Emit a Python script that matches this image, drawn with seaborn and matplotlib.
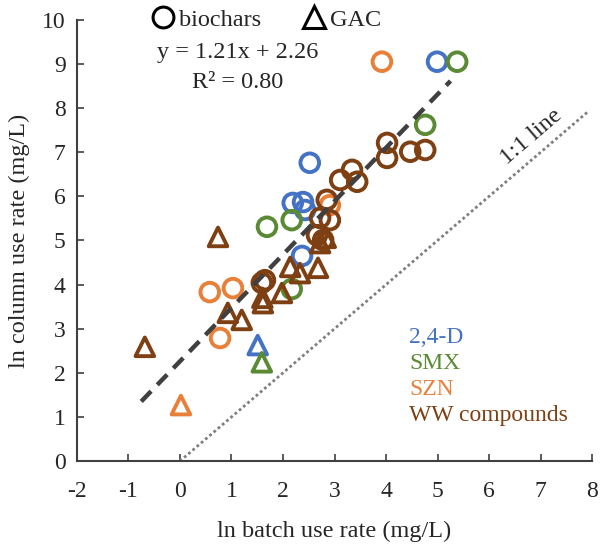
import matplotlib
matplotlib.use("Agg")
import matplotlib.pyplot as plt
from matplotlib.lines import Line2D
import seaborn as sns
import pandas as pd

# data (ln batch use rate vs ln column use rate)
d24_bio_x = [4.99, 2.52, 2.19, 2.39, 2.43, 2.37]
d24_bio_y = [9.05, 6.76, 5.85, 5.87, 5.69, 4.65]
d24_gac_x = [1.51]
d24_gac_y = [2.63]

smx_bio_x = [5.38, 4.76, 1.69, 2.17, 2.17]
smx_bio_y = [9.05, 7.62, 5.31, 5.46, 3.90]
smx_gac_x = [1.59]
smx_gac_y = [2.24]

szn_bio_x = [3.92, 2.91, 0.58, 1.03, 0.78]
szn_bio_y = [9.05, 5.80, 3.83, 3.92, 2.79]
szn_gac_x = [0.02]
szn_gac_y = [1.27]

ww_bio_x = [4.02, 4.02, 4.47, 4.76, 3.34, 3.11, 3.44, 2.85, 2.72, 2.91, 2.66, 2.78, 1.59, 1.65]
ww_bio_y = [7.21, 6.87, 7.01, 7.05, 6.60, 6.37, 6.33, 5.92, 5.51, 5.46, 5.12, 5.01, 4.04, 4.10]
ww_gac_x = [0.74, -0.68, 2.72, 2.83, 2.68, 2.14, 2.33, 1.98, 1.61, 1.20, 0.93, 1.60]
ww_gac_y = [5.08, 2.59, 4.94, 5.06, 4.38, 4.40, 4.26, 3.81, 3.58, 3.20, 3.36, 3.70]

slope, intercept = 1.21, 2.26
fit_x = [-0.75, 5.25]
one_x = [0, 7.9]

compounds = ["2,4-D", "SMX", "SZN", "WW compounds"]
colors = {"2,4-D": "#4472C4", "SMX": "#5B8A35", "SZN": "#E8803A", "WW compounds": "#7E3F12"}

rows = []
series = [
    ("2,4-D", "biochars", d24_bio_x, d24_bio_y), ("2,4-D", "GAC", d24_gac_x, d24_gac_y),
    ("SMX", "biochars", smx_bio_x, smx_bio_y), ("SMX", "GAC", smx_gac_x, smx_gac_y),
    ("SZN", "biochars", szn_bio_x, szn_bio_y), ("SZN", "GAC", szn_gac_x, szn_gac_y),
    ("WW compounds", "biochars", ww_bio_x, ww_bio_y), ("WW compounds", "GAC", ww_gac_x, ww_gac_y),
]
for comp, sorb, xs, ys in series:
    for x, y in zip(xs, ys):
        rows.append({"batch": x, "column": y, "compound": comp, "sorbent": sorb})
df = pd.DataFrame(rows)

sns.set_style("ticks")
plt.rcParams["font.family"] = ["Liberation Serif", "DejaVu Serif"]
plt.rcParams["axes.unicode_minus"] = False

fig = plt.figure(figsize=(6, 5.49), dpi=100)
ax = fig.add_axes([0.128, 0.160, 0.859, 0.804])

sns.scatterplot(data=df, x="batch", y="column", hue="compound", style="sorbent",
                palette=colors, markers={"biochars": "o", "GAC": "^"},
                s=180, legend=False, ax=ax, zorder=2)
coll = ax.collections[0]
fc = coll.get_facecolors()
coll.set_edgecolors(fc)
coll.set_facecolors("none")
coll.set_linewidth(2.8)

# trendline and 1:1 line
ax.plot(fit_x, [slope * v + intercept for v in fit_x], color="#404040",
        lw=3.2, linestyle=(0, (3.2, 2)), zorder=3)
ax.plot(one_x, one_x, color="#7f7f7f", lw=2, linestyle=(0, (1, 1)), zorder=1)

ax.set_xlim(-2, 8)
ax.set_ylim(0, 10)
ax.set_xticks(range(-2, 9))
ax.set_yticks(range(0, 11))
ax.tick_params(direction="in", length=5, width=1.2, labelsize=17, color="#404040", pad=8)
ax.tick_params(axis="x", pad=14)
for s in ["left", "bottom"]:
    ax.spines[s].set_linewidth(1.5)
    ax.spines[s].set_color("#404040")
sns.despine(ax=ax)
ax.set_xlabel("ln batch use rate (mg/L)", fontsize=17.5, labelpad=14)
ax.set_ylabel("ln column use rate (mg/L)", fontsize=17.5, labelpad=9)

ax.text(1.13, 9.25, "y = 1.21x + 2.26", ha="center", va="center", fontsize=17.5)
ax.text(1.13, 8.59, "R² = 0.80", ha="center", va="center", fontsize=17.5)
ax.text(6.82, 7.35, "1:1 line", ha="center", va="center", fontsize=17.5, rotation=40.6,
        rotation_mode="anchor")

label_y = [2.81, 2.22, 1.63, 1.04]
for comp, ly in zip(compounds, label_y):
    ax.text(4.45, ly, comp, color=colors[comp], ha="left", va="center", fontsize=17)

handles = [Line2D([], [], marker="o", ls="none", mfc="none", mec="black", mew=2.2, ms=15),
           Line2D([], [], marker="^", ls="none", mfc="none", mec="black", mew=2.2, ms=16)]
ax.legend(handles, ["biochars", "GAC"], ncol=2, frameon=False, fontsize=17.5,
          loc="center left", bbox_to_anchor=(0.12, 1.0), handletextpad=0.05,
          columnspacing=1.6, handlelength=1.2, borderaxespad=0)

fig.savefig("out.png", dpi=100)
